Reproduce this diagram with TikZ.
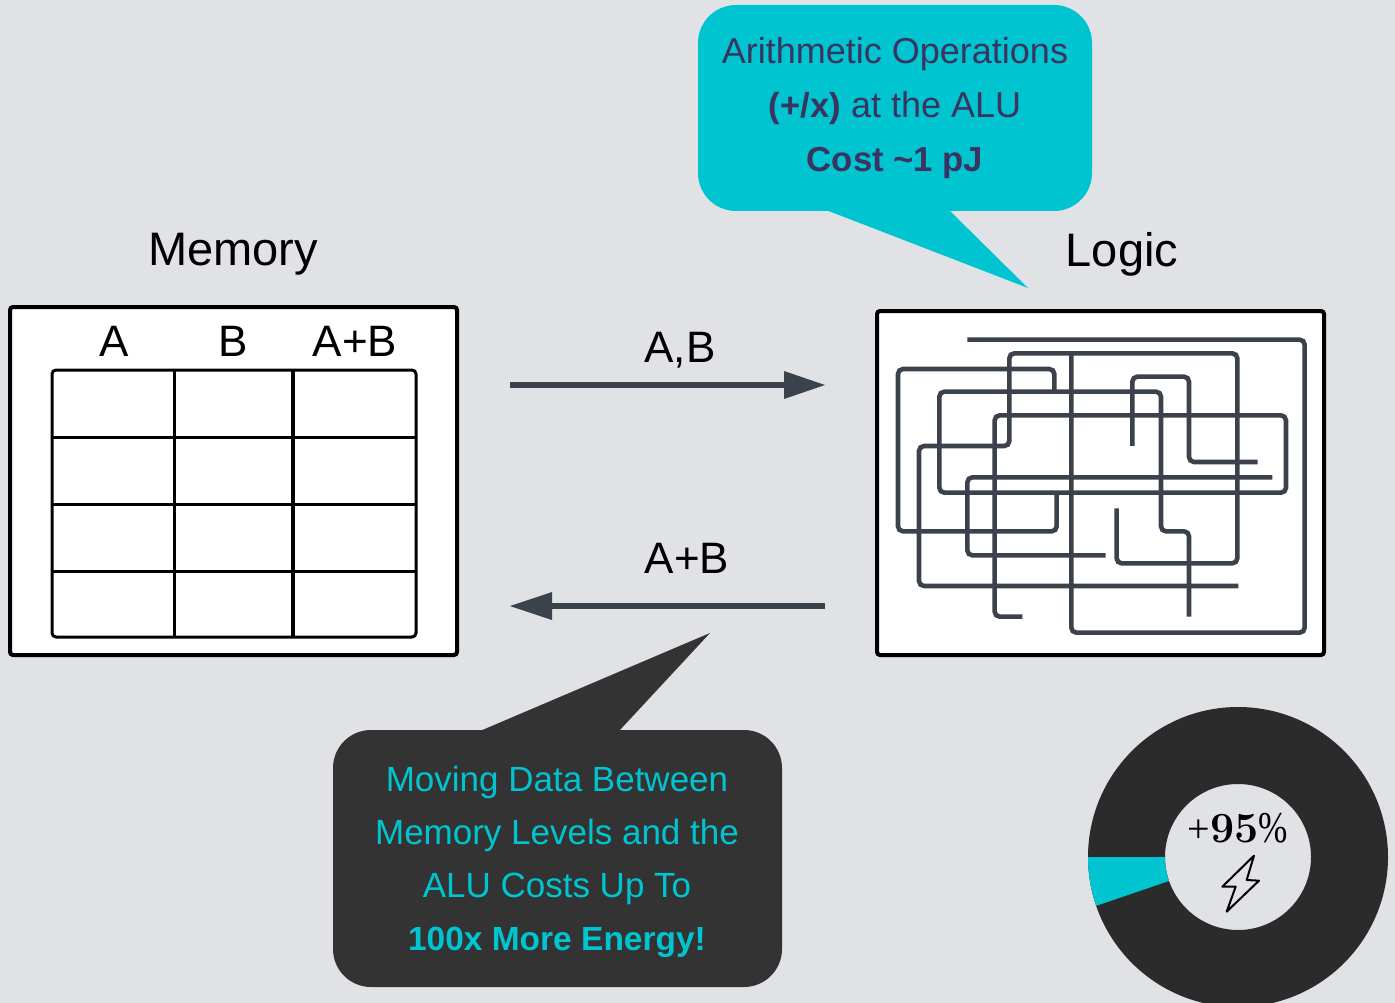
\documentclass[tikz,border=0pt]{standalone}
\usepackage{fontspec}
\setmainfont{Liberation Sans}
\newfontfamily\numserif{Liberation Serif}
\newfontfamily\lmserif{Latin Modern Roman}
\definecolor{bgc}{HTML}{E0E2E6}
\definecolor{wire}{HTML}{3B424B}
\definecolor{teal1}{HTML}{00C4CF}
\definecolor{purp}{HTML}{3A3461}
\definecolor{darkc}{HTML}{333333}
\definecolor{ring}{HTML}{2B2B2B}
\tikzset{
  panel/.style={draw=black,line width=4pt,fill=white,rounded corners=3pt},
  cell/.style={draw=black,line width=3pt,rounded corners=4pt},
  wirepath/.style={draw=wire,line width=4.6pt,rounded corners=5pt},
  flow/.style={draw=wire,line width=6pt},
  head/.style={fill=wire},
  lbl/.style={font=\fontsize{44}{50}\selectfont,text=black,inner sep=0pt},
  biglbl/.style={font=\fontsize{47}{50}\selectfont,text=black,inner sep=0pt},
  calltext/.style={align=center,inner sep=0pt},
}
\newcommand{\upbold}[1]{{\fontsize{34.7}{54}\selectfont\bfseries #1}}
\newcommand{\lowbold}[1]{{\fontsize{33.5}{53}\selectfont\bfseries #1}}
\begin{document}
\begin{tikzpicture}[x=1pt,y=-1pt]
\useasboundingbox (0,0) rectangle (1395,1003);
\begin{scope}
\clip (0,0) rectangle (1395,1003);
\fill[bgc] (0,0) rectangle (1395,1003);

% memory
\draw[panel] (10,307) rectangle (457,655);
\node[biglbl] (memlabel) at (233,254) {Memory};
\draw[cell] (52,370) rectangle (416,637);
\draw[black,line width=3pt] (52,437) -- (416,437);
\draw[black,line width=3pt] (52,504) -- (416,504);
\draw[black,line width=3pt] (52,571) -- (416,571);
\draw[black,line width=3pt] (174,370) -- (174,637);
\draw[black,line width=3.4pt] (293,370) -- (293,637);
\node[lbl] (cola) at (114,341) {A};
\node[lbl] (colb) at (233,341) {B};
\node[lbl] (colc) at (355,341) {A+B};

% logic
\draw[panel] (877,311) rectangle (1324,655);
\node[biglbl] (logiclabel) at (1122,254) {Logic};
\begin{scope}[shift={(870,300)},x=0.33333pt,y=-0.33333pt]
\draw[wirepath] (292,119) -- (1304,119) -- (1304,998) -- (604,998) -- (604,160);
\draw[wirepath] (740,625) -- (740,790) -- (1102,790) -- (1102,160) -- (418,160) -- (418,438) -- (147,438) -- (147,858) -- (1105,858);
\draw[wirepath] (553,270) -- (553,207) -- (84,207) -- (84,694) -- (560,694) -- (560,580);
\draw[wirepath] (787,438) -- (787,230) -- (957,230) -- (957,486) -- (1163,486);
\draw[wirepath] (1207,532) -- (292,532) -- (292,766) -- (707,766);
\draw[wirepath] (957,950) -- (957,694) -- (873,694) -- (873,275) -- (208,275) -- (208,578) -- (1248,578) -- (1248,346) -- (374,346) -- (374,950) -- (457,950);
\end{scope}

% arrows
\coordinate (abstart) at (510,385);
\coordinate (abend) at (790,385);
\coordinate (abtip) at (825,385);
\draw[flow] (abstart) -- (abend);
\fill[head] (abtip) -- (784,371) -- (784,399) -- cycle;
\node[lbl] (ablabel) at (680,350) {A,B};
\coordinate (sumstart) at (825,606);
\coordinate (sumend) at (545,606);
\coordinate (sumtip) at (510,606);
\draw[flow] (sumstart) -- (sumend);
\fill[head] (sumtip) -- (552,592) -- (552,620) -- cycle;
\node[lbl] (sumlabel) at (687,558) {A+B};

% callouts
\fill[teal1,rounded corners=38pt] (698,5) rectangle (1092,211);
\fill[teal1] (826,210) -- (1028,288) -- (949,210) -- cycle;
\node[calltext,text=purp,font=\fontsize{36}{54}\selectfont] (alutext) at (895,108) {Arithmetic Operations\\\upbold{(+/x)} at the ALU\\\upbold{Cost \textasciitilde 1 pJ}};
\fill[darkc,rounded corners=38pt] (333,730) rectangle (782,987);
\fill[darkc] (480,731) -- (710,633) -- (619,731) -- cycle;
\node[calltext,text=teal1,font=\fontsize{35}{53}\selectfont] (movetext) at (557,862) {Moving Data Between\\Memory Levels and the\\ALU Costs Up To\\\lowbold{100x More Energy!}};

% donut
\coordinate (c) at (1238,857);
\fill[ring,even odd rule] (c) circle[radius=150] (c) circle[radius=73];
\fill[teal1] (1088,857) arc[start angle=180,end angle=161,radius=150] -- (1169,881) arc[start angle=161,end angle=180,radius=73] -- cycle;
\node[inner sep=0pt,font=\numserif] (pct) at (1238,828) {{\fontsize{40}{48}\selectfont +}{\fontsize{43}{48}\selectfont\lmserif\bfseries 95}\scalebox{0.8}[1]{\fontsize{44}{48}\selectfont\%}};
\begin{scope}[shift={(1070,690)},x=0.33333pt,y=-0.33333pt]
\draw[black,line width=2pt,line join=round] (552,497) -- (530,570) -- (567,572) -- (470,665) -- (497,590) -- (457,590) -- cycle;
\end{scope}
\end{scope}
\end{tikzpicture}
\end{document}
